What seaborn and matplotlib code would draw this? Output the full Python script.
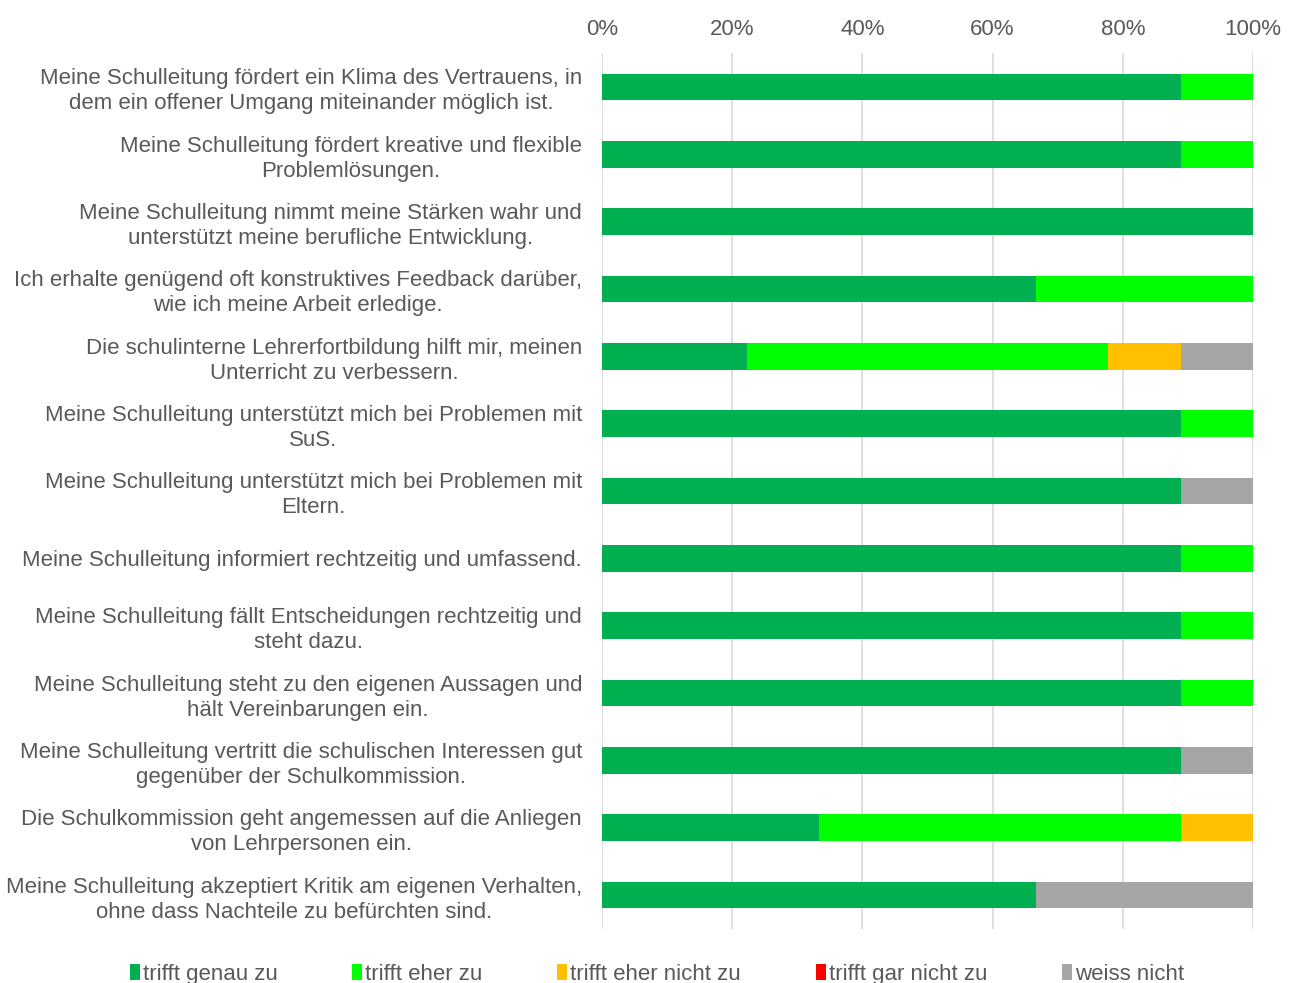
import numpy as np
import pandas as pd
import matplotlib
matplotlib.use("Agg")
import matplotlib.pyplot as plt
import seaborn as sns
from matplotlib.patches import Patch

statements = [
    "Meine Schulleitung fördert ein Klima des Vertrauens, in\ndem ein offener Umgang miteinander möglich ist.",
    "Meine Schulleitung fördert kreative und flexible\nProblemlösungen.",
    "Meine Schulleitung nimmt meine Stärken wahr und\nunterstützt meine berufliche Entwicklung.",
    "Ich erhalte genügend oft konstruktives Feedback darüber,\nwie ich meine Arbeit erledige.",
    "Die schulinterne Lehrerfortbildung hilft mir, meinen\nUnterricht zu verbessern.",
    "Meine Schulleitung unterstützt mich bei Problemen mit\nSuS.",
    "Meine Schulleitung unterstützt mich bei Problemen mit\nEltern.",
    "Meine Schulleitung informiert rechtzeitig und umfassend.",
    "Meine Schulleitung fällt Entscheidungen rechtzeitig und\nsteht dazu.",
    "Meine Schulleitung steht zu den eigenen Aussagen und\nhält Vereinbarungen ein.",
    "Meine Schulleitung vertritt die schulischen Interessen gut\ngegenüber der Schulkommission.",
    "Die Schulkommission geht angemessen auf die Anliegen\nvon Lehrpersonen ein.",
    "Meine Schulleitung akzeptiert Kritik am eigenen Verhalten,\nohne dass Nachteile zu befürchten sind.",
]

series_names = ["trifft genau zu", "trifft eher zu", "trifft eher nicht zu", "trifft gar nicht zu", "weiss nicht"]

genau_zu      = [88.9, 88.9, 100.0, 66.7, 22.2, 88.9, 88.9, 88.9, 88.9, 88.9, 88.9, 33.3, 66.7]
eher_zu       = [11.1, 11.1, 0.0, 33.3, 55.6, 11.1, 0.0, 11.1, 11.1, 11.1, 0.0, 55.6, 0.0]
eher_nicht_zu = [0.0, 0.0, 0.0, 0.0, 11.1, 0.0, 0.0, 0.0, 0.0, 0.0, 0.0, 11.1, 0.0]
gar_nicht_zu  = [0.0] * 13
weiss_nicht   = [0.0, 0.0, 0.0, 0.0, 11.1, 0.0, 11.1, 0.0, 0.0, 0.0, 11.1, 0.0, 33.3]

colors = ["#00B050", "#00FF00", "#FFC000", "#FF0000", "#A6A6A6"]
text_color = "#595959"
fs = 16

sns.set_theme(style="white")
plt.rcParams["font.family"] = ["Liberation Sans", "DejaVu Sans"]

df = pd.DataFrame({
    "statement": statements,
    series_names[0]: genau_zu,
    series_names[1]: eher_zu,
    series_names[2]: eher_nicht_zu,
    series_names[3]: gar_nicht_zu,
    series_names[4]: weiss_nicht,
})
cum = df[series_names].cumsum(axis=1)

fig = plt.figure(figsize=(12.93, 9.83), dpi=100)
ax = fig.add_axes([602 / 1293, 1 - 928.7 / 983, (1253 - 602) / 1293, (928.7 - 53.3) / 983])

for i in range(len(series_names) - 1, -1, -1):
    sns.barplot(x=cum[series_names[i]].values, y=df["statement"], orient="h",
                color=colors[i], width=0.4, ax=ax, saturation=1, linewidth=0)

ax.set_xlim(0, 100)
ax.set_xticks([0, 20, 40, 60, 80, 100])
ax.set_xticklabels([f"{t}%" for t in [0, 20, 40, 60, 80, 100]])
ax.xaxis.tick_top()
ax.grid(axis="x", color="#D9D9D9", linewidth=1.2)
ax.set_axisbelow(True)
for s in ax.spines.values():
    s.set_visible(False)
ax.set_xlabel("")
ax.set_ylabel("")
ax.tick_params(axis="x", length=0, pad=9.5, labelsize=fs, labelcolor=text_color)
ax.tick_params(axis="y", length=0, pad=14.4, labelsize=fs, labelcolor=text_color)
for lab in ax.get_yticklabels():
    lab.set_multialignment("center")
    lab.set_horizontalalignment("right")
    lab.set_linespacing(1.25)

handles = [Patch(facecolor=c, edgecolor="none") for c in colors]
leg = fig.legend(handles, series_names, loc="center", bbox_to_anchor=(0.508, 0.009),
                 ncol=5, frameon=False, fontsize=fs, handlelength=0.45, handleheight=0.7,
                 handletextpad=0.15, columnspacing=3.35, labelcolor=text_color)

fig.savefig("out.png", dpi=100)
